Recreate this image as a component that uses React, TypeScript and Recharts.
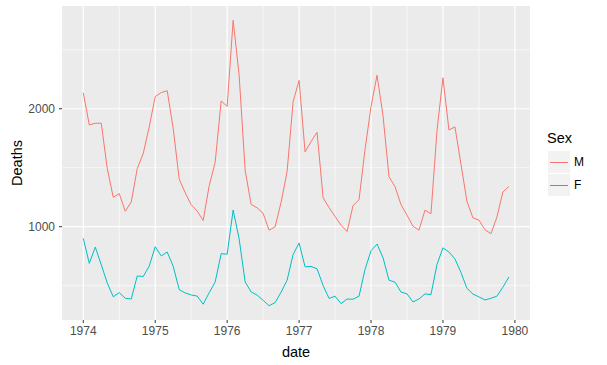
import { LineChart, Line, XAxis, YAxis, CartesianGrid } from "recharts";

const years = [1974, 1975, 1976, 1977, 1978, 1979];

const maleDeaths = [
  2134, 1863, 1877, 1877, 1492, 1249, 1280, 1131, 1209, 1492, 1621, 1846,
  2103, 2137, 2153, 1833, 1403, 1288, 1186, 1133, 1053, 1347, 1545, 2066,
  2020, 2750, 2283, 1479, 1189, 1160, 1113, 970, 999, 1208, 1467, 2059,
  2240, 1634, 1722, 1801, 1246, 1162, 1087, 1013, 959, 1179, 1229, 1655,
  2019, 2284, 1942, 1423, 1340, 1187, 1098, 1004, 970, 1140, 1110, 1812,
  2263, 1820, 1846, 1531, 1215, 1075, 1056, 975, 940, 1081, 1294, 1341,
];

const femaleDeaths = [
  901, 689, 827, 677, 522, 406, 441, 393, 387, 582, 578, 666,
  830, 752, 785, 664, 467, 438, 421, 412, 343, 440, 531, 771,
  767, 1141, 896, 532, 447, 420, 376, 330, 357, 445, 546, 764,
  862, 660, 663, 643, 502, 392, 411, 348, 387, 385, 411, 638,
  796, 853, 737, 546, 530, 446, 431, 362, 387, 430, 425, 679,
  821, 785, 727, 612, 478, 429, 405, 379, 393, 411, 487, 574,
];

const xTicks = [1974, 1975, 1976, 1977, 1978, 1979, 1980];
const xMinor = [1974.5, 1975.5, 1976.5, 1977.5, 1978.5, 1979.5];
const yTicks = [1000, 2000];
const yMinor = [500, 1500, 2500];

const data = maleDeaths.map((m, i) => ({
  date: years[0] + i / 12,
  M: m,
  F: femaleDeaths[i],
}));

const font = '"Liberation Sans", Arial, sans-serif';

export default function App() {
  return (
    <div style={{ position: "absolute", left: 0, top: 0, width: 607, height: 365, background: "#fff", fontFamily: font }}>
      <LineChart width={607} height={365} data={data} margin={{ top: 6, right: 77, bottom: 0, left: 12 }}>
        <CartesianGrid fill="#EBEBEB" stroke="#fff" strokeWidth={0.6} horizontalValues={yMinor} verticalValues={xMinor} />
        <CartesianGrid stroke="#fff" strokeWidth={1.2} horizontalValues={yTicks} verticalValues={xTicks} />
        <XAxis
          dataKey="date"
          type="number"
          domain={[1973.704, 1980.21]}
          allowDataOverflow
          ticks={xTicks}
          height={45}
          axisLine={false}
          tickSize={3}
          tickMargin={3}
          tickLine={{ stroke: "#333", strokeWidth: 1 }}
          tick={{ fill: "#4D4D4D", fontSize: 12, fontFamily: font }}
          label={{ value: "date", position: "insideBottom", offset: 8, fill: "#000", fontSize: 14.5, fontFamily: font }}
        />
        <YAxis
          type="number"
          domain={[209, 2871]}
          allowDataOverflow
          ticks={yTicks}
          width={50}
          axisLine={false}
          tickSize={3}
          tickMargin={4}
          tickLine={{ stroke: "#333", strokeWidth: 1 }}
          tick={{ fill: "#4D4D4D", fontSize: 12, fontFamily: font }}
          label={({ viewBox }: any) => {
            const cx = 17;
            const cy = viewBox.y + viewBox.height / 2;
            return (
              <text x={cx} y={cy} transform={`rotate(-90 ${cx} ${cy})`} textAnchor="middle" dominantBaseline="central" fill="#000" fontSize={14.5} fontFamily={font}>
                Deaths
              </text>
            );
          }}
        />
        <Line dataKey="M" stroke="#F8766D" strokeWidth={1} dot={false} isAnimationActive={false} type="linear" />
        <Line dataKey="F" stroke="#00BFC4" strokeWidth={1} dot={false} isAnimationActive={false} type="linear" />
      </LineChart>
      <div style={{ position: "absolute", left: 547, top: 130, fontSize: 14.5, color: "#000" }}>Sex</div>
      {[
        { name: "M", color: "#F8766D" },
        { name: "F", color: "#00BFC4" },
      ].map((s, i) => (
        <div key={s.name} style={{ position: "absolute", left: 548, top: 151 + i * 23, height: 22, display: "flex", alignItems: "center" }}>
          <div style={{ width: 22, height: 22, background: "#F2F2F2", display: "flex", alignItems: "center", justifyContent: "center" }}>
            <div style={{ width: 18, height: 1, background: s.color }} />
          </div>
          <span style={{ marginLeft: 4, fontSize: 12, color: "#000" }}>{s.name}</span>
        </div>
      ))}
    </div>
  );
}
